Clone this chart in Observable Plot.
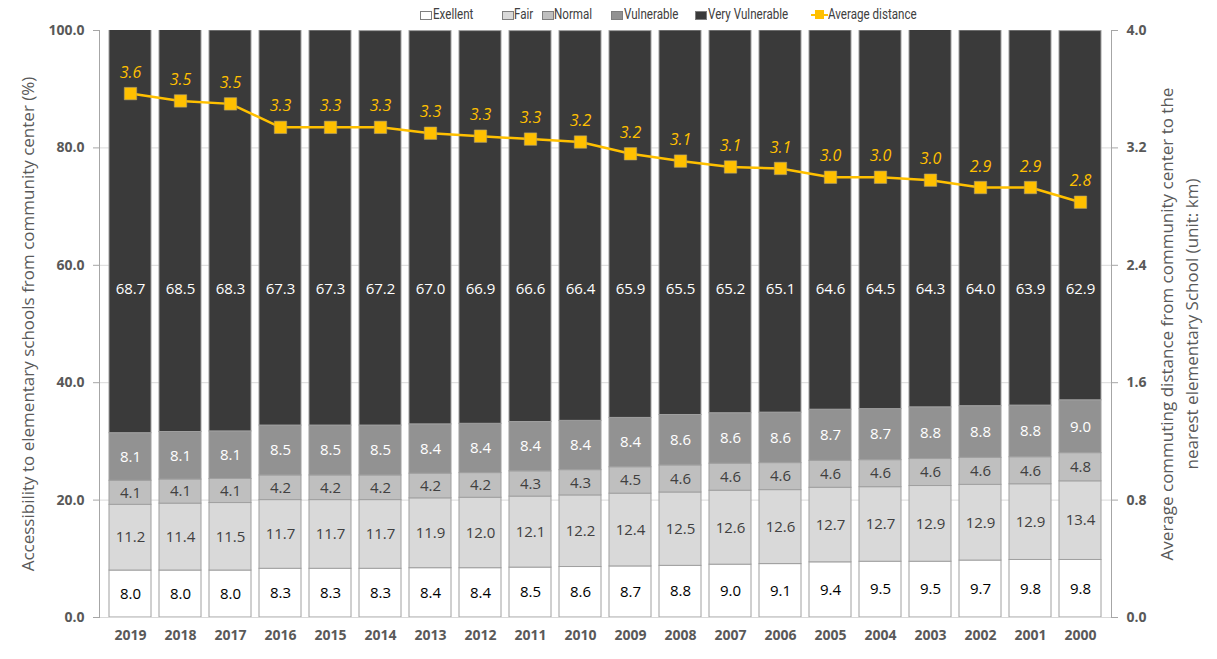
<!DOCTYPE html>
<html>
<head>
<meta charset="utf-8">
<script src="https://cdn.jsdelivr.net/npm/d3@7"></script>
<script src="https://cdn.jsdelivr.net/npm/@observablehq/plot@0.6"></script>
<style>
  body { margin: 0; background: #fff; font-family: "Open Sans", sans-serif; }
  #wrap { position: relative; width: 1217px; height: 659px; }
  #legend { position: absolute; left: 0; top: 0; height: 24px; width: 1217px; z-index: 2; font-family: Roboto, sans-serif; font-size: 14.5px; color: #404040; }
  .sw { position: absolute; top: 11px; width: 12px; height: 9px; border: 1px solid #7f7f7f; box-sizing: border-box; }
  .tx { position: absolute; top: 6px; line-height: 18px; white-space: nowrap; transform: scaleX(0.8); transform-origin: 0 50%; }
  .ln { position: absolute; top: 10px; width: 17px; height: 10px; }
  .ln::before { content: ""; position: absolute; left: 0; right: 0; top: 4px; height: 2px; background: #ffc000; }
  .ln::after { content: ""; position: absolute; left: 4px; top: 0; width: 9px; height: 9px; background: #ffc000; }
</style>
</head>
<body>
<div id="wrap">
  <div id="legend"></div>
  <div id="chart"></div>
</div>
<script>
const years = ["2019","2018","2017","2016","2015","2014","2013","2012","2011","2010","2009","2008","2007","2006","2005","2004","2003","2002","2001","2000"];
const categories = ["Exellent","Fair","Normal","Vulnerable","Very Vulnerable"];
const excellent = [8.0,8.0,8.0,8.3,8.3,8.3,8.4,8.4,8.5,8.6,8.7,8.8,9.0,9.1,9.4,9.5,9.5,9.7,9.8,9.8];
const fair = [11.2,11.4,11.5,11.7,11.7,11.7,11.9,12.0,12.1,12.2,12.4,12.5,12.6,12.6,12.7,12.7,12.9,12.9,12.9,13.4];
const normal = [4.1,4.1,4.1,4.2,4.2,4.2,4.2,4.2,4.3,4.3,4.5,4.6,4.6,4.6,4.6,4.6,4.6,4.6,4.6,4.8];
const vulnerable = [8.1,8.1,8.1,8.5,8.5,8.5,8.4,8.4,8.4,8.4,8.4,8.6,8.6,8.6,8.7,8.7,8.8,8.8,8.8,9.0];
const veryVulnerable = [68.7,68.5,68.3,67.3,67.3,67.2,67.0,66.9,66.6,66.4,65.9,65.5,65.2,65.1,64.6,64.5,64.3,64.0,63.9,62.9];
const distance = [3.57,3.52,3.50,3.34,3.34,3.34,3.30,3.28,3.26,3.24,3.16,3.11,3.07,3.06,3.00,3.00,2.98,2.93,2.93,2.83];
const distanceLabel = "Average distance";
const leftTitle = "Accessibility to elementary schools from community center (%)";
const rightTitle = "Average commuting distance from community center to the\nnearest elementary School (unit: km)";

const fills = {"Exellent":"#ffffff","Fair":"#d9d9d9","Normal":"#bfbfbf","Vulnerable":"#929292","Very Vulnerable":"#3a3a3a"};
const labelFills = {"Exellent":"#000000","Fair":"#404040","Normal":"#404040","Vulnerable":"#ffffff","Very Vulnerable":"#ffffff"};
const series = [excellent, fair, normal, vulnerable, veryVulnerable];

const stacked = [];
categories.forEach((c, ci) => years.forEach((y, i) => stacked.push({year: y, cat: c, value: series[ci][i]})));
const lineRows = years.map((y, i) => ({year: y, dist: distance[i]}));
const k = 25; // 4.0 km maps to 100 %
const fmt1 = d3.format(".1f");

const chart = Plot.plot({
  width: 1217,
  height: 659,
  marginTop: 30,
  marginBottom: 42,
  marginLeft: 99,
  marginRight: 106,
  style: {fontFamily: "'Open Sans', sans-serif", background: "#fff"},
  x: {domain: years, padding: 0.17, label: null},
  y: {domain: [0, 100], label: null},
  color: {type: "identity"},
  marks: [
    Plot.gridY(d3.range(20, 100, 20), {stroke: "#d9d9d9", strokeOpacity: 1}),
    Plot.barY(stacked, Plot.stackY({x: "year", y: "value", fill: d => fills[d.cat], stroke: "#a0a0a0", strokeWidth: 1, clip: true})),
    Plot.text(stacked, Plot.stackY({x: "year", y: "value", text: d => d.cat === "Very Vulnerable" ? "" : fmt1(d.value), fill: d => labelFills[d.cat], fontSize: 15})),
    Plot.text(years.map((y, i) => ({year: y, v: veryVulnerable[i]})), {x: "year", text: d => fmt1(d.v), frameAnchor: "middle", dy: -35, fill: "#ffffff", fontSize: 15}),
    Plot.ruleY([0], {stroke: "#d9d9d9"}),
    Plot.frame({anchor: "left", stroke: "#a6a6a6"}),
    Plot.frame({anchor: "right", stroke: "#a6a6a6"}),
    Plot.axisY(d3.range(0, 101, 20), {anchor: "left", tickFormat: fmt1, tickSize: 6, tickPadding: 9, stroke: "#a6a6a6", fill: "#595959", fontWeight: "bold", fontSize: 14, label: null}),
    Plot.axisY(d3.range(0, 101, 20), {anchor: "right", tickFormat: d => fmt1(d / k), tickSize: 6, tickPadding: 9, stroke: "#a6a6a6", fill: "#595959", fontWeight: "bold", fontSize: 14, label: null}),
    Plot.axisX({tickSize: 0, tickPadding: 13, fill: "#595959", fontWeight: "bold", fontSize: 14, label: null}),
    Plot.line(lineRows, {x: "year", y: d => d.dist * k, stroke: "#ffc000", strokeWidth: 2.5}),
    Plot.dot(lineRows, {x: "year", y: d => d.dist * k, symbol: "square", r: 7, fill: "#ffc000", stroke: "#b0a070", strokeWidth: 0.6}),
    Plot.text(lineRows, {x: "year", y: d => d.dist * k, text: d => fmt1(d.dist), dy: -21, fill: "#ffc000", fontStyle: "italic", fontSize: 16}),
    Plot.text([leftTitle], {frameAnchor: "left", textAnchor: "middle", rotate: -90, dx: -71, fill: "#595959", fontSize: 17}),
    Plot.text([rightTitle], {frameAnchor: "right", textAnchor: "middle", rotate: -90, dx: 66, fill: "#595959", fontSize: 17, lineHeight: 1.45})
  ]
});
document.getElementById("chart").appendChild(chart);

// legend
const legend = document.getElementById("legend");
const swLefts = [420, 502, 542, 611, 695];
const txLefts = [433, 514, 554, 624, 708];
function add(cls, left, text) {
  const el = document.createElement("span");
  el.className = cls;
  el.style.left = left + "px";
  if (text) el.textContent = text;
  legend.appendChild(el);
  return el;
}
categories.forEach((c, i) => {
  add("sw", swLefts[i]).style.background = fills[c];
  add("tx", txLefts[i], c);
});
add("ln", 811);
add("tx", 828, distanceLabel);
</script>
</body>
</html>
